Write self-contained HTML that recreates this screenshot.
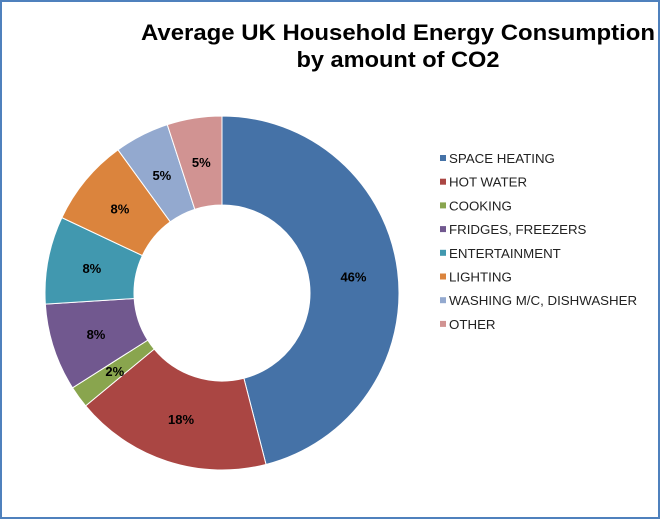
<!DOCTYPE html>
<html><head><meta charset="utf-8"><style>
body{margin:0;background:#fff;}
#chart{position:relative;width:661px;height:520px;overflow:hidden;}
svg text{font-family:"Liberation Sans",Arial,sans-serif;}
</style></head><body>
<div id="chart">
<svg id="svg" width="661" height="520" xmlns="http://www.w3.org/2000/svg">
<rect x="1" y="1" width="658" height="517" fill="#fff" stroke="#4F81BD" stroke-width="2"/>
<text x="398" y="40" text-anchor="middle" font-size="22" font-weight="bold" fill="#000" textLength="514" lengthAdjust="spacingAndGlyphs">Average UK Household Energy Consumption</text>
<text x="398" y="67" text-anchor="middle" font-size="22" font-weight="bold" fill="#000" textLength="203" lengthAdjust="spacingAndGlyphs">by amount of CO2</text>
<g id="slices"></g><g id="labels"></g><g id="legend"></g>
</svg>
</div>
<script>
const categories=["SPACE HEATING","HOT WATER","COOKING","FRIDGES, FREEZERS","ENTERTAINMENT","LIGHTING","WASHING M/C, DISHWASHER","OTHER"];
const values=[46,18,2,8,8,8,5,5];
const colors=["#4572A7","#AA4643","#89A54E","#71588F","#4198AF","#DB843D","#93A9CF","#D19392"];
const NS="http://www.w3.org/2000/svg";
const cx=222,cy=293,R=177,r=88;
const total=values.reduce((a,b)=>a+b,0);
function pt(rad,a){return [cx+rad*Math.sin(a),cy-rad*Math.cos(a)];}
let acc=0;
const sg=document.getElementById('slices'),lg=document.getElementById('labels'),leg=document.getElementById('legend');
values.forEach((v,i)=>{
 const a0=acc/total*2*Math.PI;acc+=v;const a1=acc/total*2*Math.PI;
 const big=(a1-a0)>Math.PI?1:0;
 const [x0,y0]=pt(R,a0),[x1,y1]=pt(R,a1),[x2,y2]=pt(r,a1),[x3,y3]=pt(r,a0);
 const p=document.createElementNS(NS,'path');
 p.setAttribute('d',`M${x0},${y0}A${R},${R} 0 ${big} 1 ${x1},${y1}L${x2},${y2}A${r},${r} 0 ${big} 0 ${x3},${y3}Z`);
 p.setAttribute('fill',colors[i]);p.setAttribute('stroke','#fff');p.setAttribute('stroke-width','1');
 
 
 sg.appendChild(p);
 const [lx,ly]=pt((R+r)/2,(a0+a1)/2);
 const t=document.createElementNS(NS,'text');
 t.setAttribute('x',lx);t.setAttribute('y',ly+5);t.setAttribute('text-anchor','middle');
 t.setAttribute('font-size','13');t.setAttribute('font-weight','bold');t.textContent=v+'%';
 
 
 lg.appendChild(t);
 const y=158+i*23.7;
 const m=document.createElementNS(NS,'rect');
 m.setAttribute('x',440);m.setAttribute('y',y-3);m.setAttribute('width',6);m.setAttribute('height',6);m.setAttribute('fill',colors[i]);
 
 
 leg.appendChild(m);
 const lt=document.createElementNS(NS,'text');
 lt.setAttribute('x',449);lt.setAttribute('y',y+5);lt.setAttribute('font-size','13.3');lt.setAttribute('fill','#222');lt.textContent=categories[i];
 
 
 leg.appendChild(lt);
});
</script>
</body></html>
